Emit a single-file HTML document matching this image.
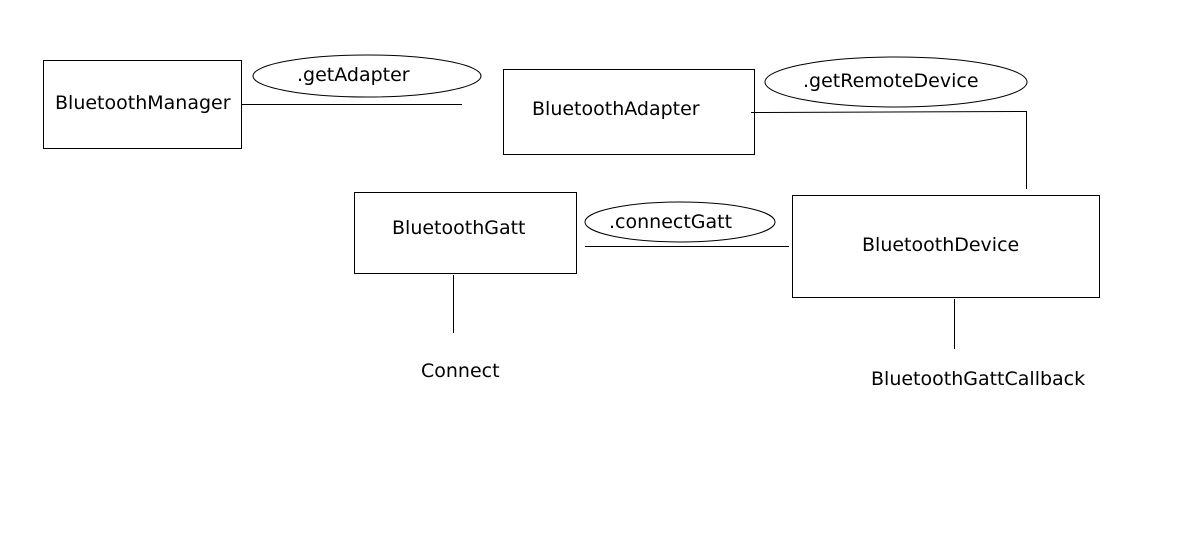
<!DOCTYPE html>
<html><head><style>body{margin:0;background:#fff}svg{display:block}text{font-family:"DejaVu Sans",sans-serif;font-size:19px;fill:#000}</style></head>
<body>
<svg width="1186" height="547" viewBox="0 0 1186 547" fill="none" stroke="#000" stroke-width="1">
<rect x="43.5" y="60.5" width="198" height="88"/>
<rect x="503.5" y="69.5" width="251" height="85"/>
<rect x="354.5" y="192.5" width="222" height="81"/>
<rect x="792.5" y="195.5" width="307" height="102"/>
<ellipse cx="367" cy="76" rx="114" ry="21"/>
<ellipse cx="896" cy="82" rx="131" ry="25"/>
<ellipse cx="680" cy="222" rx="95" ry="20"/>
<line x1="242" y1="104.5" x2="462" y2="104.5"/>
<polyline points="751,112.5 1026.5,111.5 1026.5,189"/>
<line x1="585" y1="246.5" x2="789" y2="246.5"/>
<line x1="453.5" y1="275" x2="453.5" y2="333"/>
<line x1="954.5" y1="299" x2="954.5" y2="349"/>
<g stroke="none">
<text x="55" y="109">BluetoothManager</text>
<text x="532" y="115">BluetoothAdapter</text>
<text x="392" y="234">BluetoothGatt</text>
<text x="862" y="251">BluetoothDevice</text>
<text x="297" y="81">.getAdapter</text>
<text x="803" y="87">.getRemoteDevice</text>
<text x="609" y="228">.connectGatt</text>
<text x="421" y="377">Connect</text>
<text x="871" y="385">BluetoothGattCallback</text>
</g>
</svg>
</body></html>
